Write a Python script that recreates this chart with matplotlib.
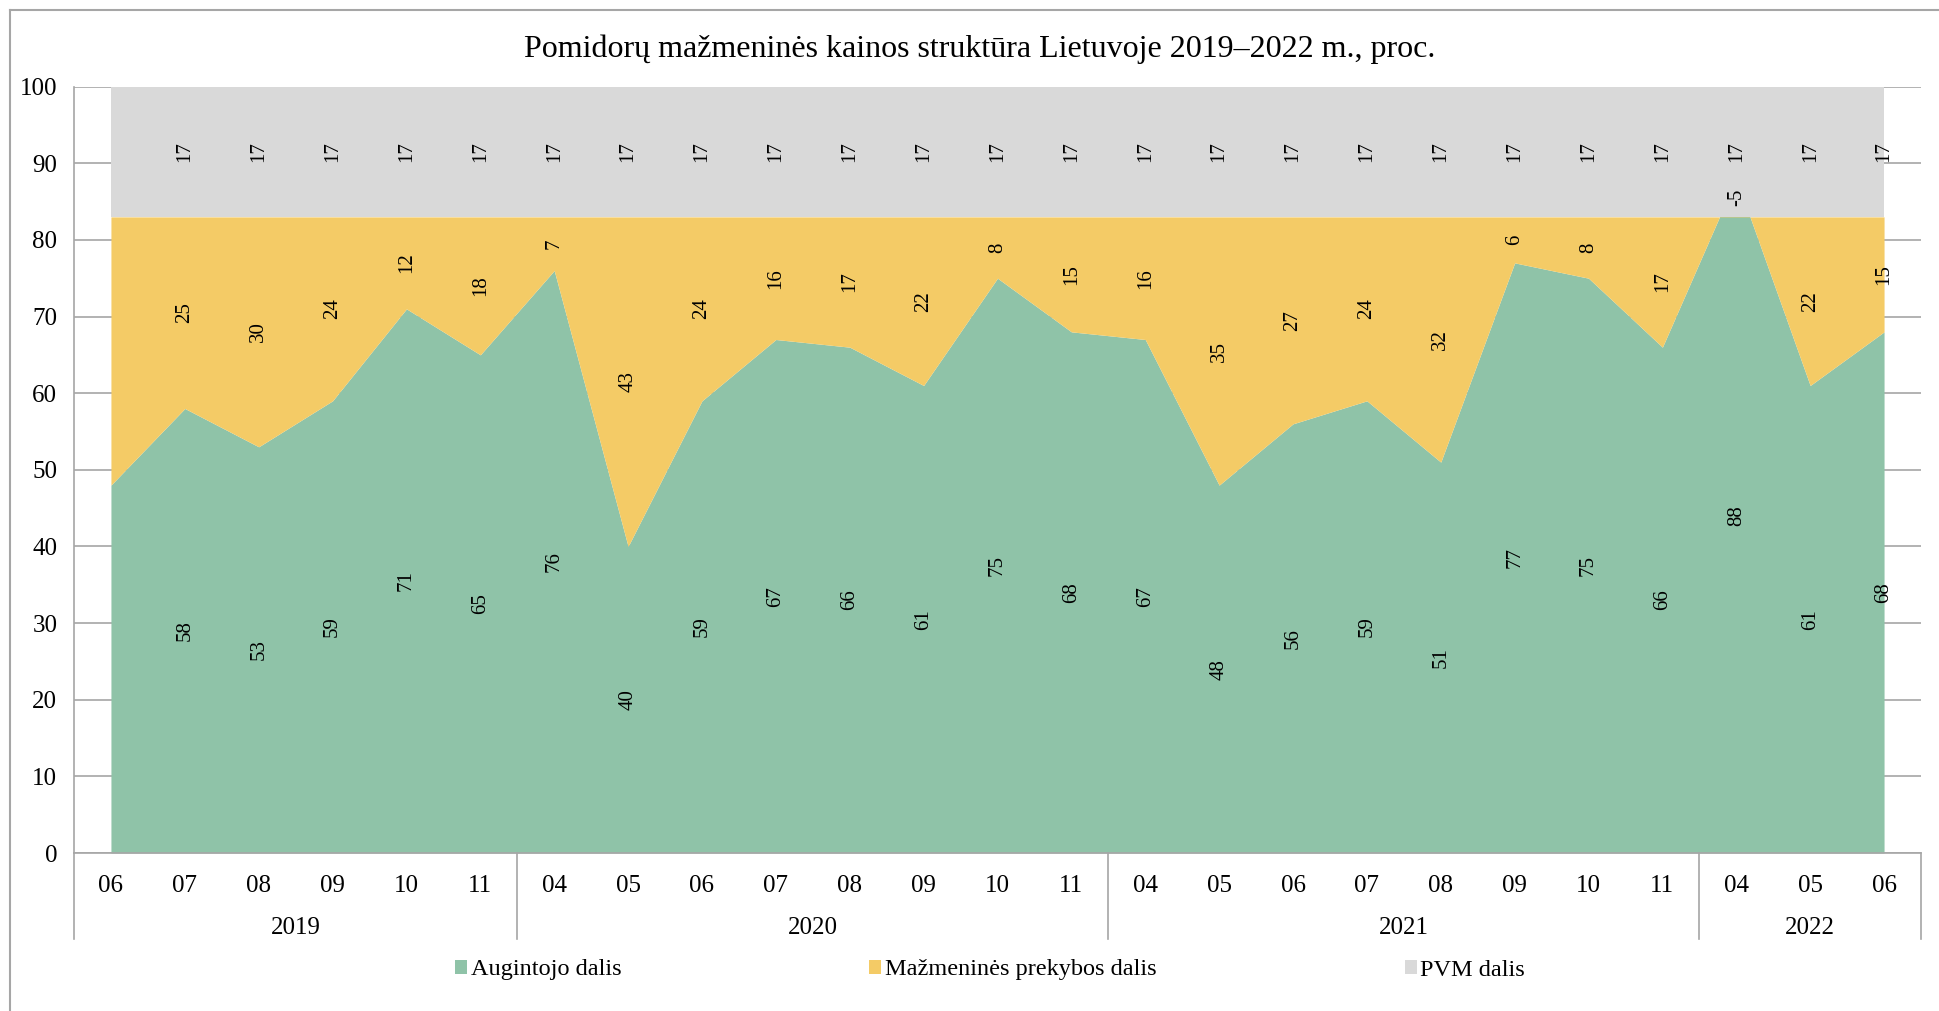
import numpy as np
import matplotlib.pyplot as plt
from matplotlib.patches import Patch
from matplotlib.lines import Line2D
from matplotlib.transforms import blended_transform_factory

plt.rcParams['font.family'] = ['Liberation Serif', 'DejaVu Serif']

months = ['06', '07', '08', '09', '10', '11',
          '04', '05', '06', '07', '08', '09', '10', '11',
          '04', '05', '06', '07', '08', '09', '10', '11',
          '04', '05', '06']
years = ['2019', '2020', '2021', '2022']
year_sizes = [6, 8, 8, 3]

grower = [48, 58, 53, 59, 71, 65, 76, 40, 59, 67, 66, 61, 75, 68,
          67, 48, 56, 59, 51, 77, 75, 66, 88, 61, 68]
retail = [35, 25, 30, 24, 12, 18, 7, 43, 24, 16, 17, 22, 8, 15,
          16, 35, 27, 24, 32, 6, 8, 17, -5, 22, 15]
vat = [17] * 25

series_names = ['Augintojo dalis', 'Mažmeninės prekybos dalis', 'PVM dalis']
colors = ['#8fc3a8', '#f4cb66', '#d9d9d9']
grid_color = '#a6a6a6'

W, H = 1939, 1011
fig = plt.figure(figsize=(W / 100, H / 100), dpi=100)
ax = fig.add_axes([74 / W, 1 - 853 / H, (1921 - 74) / W, (853 - 86.6) / H])

x = np.arange(len(months))
bottom = np.zeros(len(x))
for vals, col in zip([grower, retail, vat], colors):
    top = bottom + np.array(vals)
    ax.fill_between(x, bottom, top, color=col, linewidth=0, zorder=2)
    # value labels in the middle of each band (first point has none)
    for i in range(1, len(x)):
        ax.text(x[i], (bottom[i] + top[i]) / 2, str(vals[i]), rotation=90,
                ha='center', va='center', fontsize=15, zorder=5)
    bottom = top

ax.set_xlim(-0.5, len(x) - 0.5)
ax.set_ylim(0, 100)
ax.set_yticks(range(0, 101, 10))
ax.yaxis.grid(True, color=grid_color, linewidth=1.2, zorder=0)
ax.set_axisbelow(True)
ax.tick_params(axis='y', length=0, pad=12, labelsize=18)
ax.set_xticks(x)
ax.set_xticklabels(months)
ax.tick_params(axis='x', length=0, pad=16, labelsize=18)
for s in ['top', 'right']:
    ax.spines[s].set_visible(False)
for s in ['left', 'bottom']:
    ax.spines[s].set_color(grid_color)
    ax.spines[s].set_linewidth(1.2)

# two-level category axis: year groups with separators
trans = blended_transform_factory(ax.transData, ax.transAxes)
sep_y = -(939 - 853) / (853 - 86.6)
year_y = -(928 - 853) / (853 - 86.6)
edges = np.concatenate([[0], np.cumsum(year_sizes)]) - 0.5
for e in edges:
    ax.add_line(Line2D([e, e], [0, sep_y], transform=trans, color=grid_color,
                       linewidth=1.2, clip_on=False))
for yr, a, b in zip(years, edges[:-1], edges[1:]):
    ax.text((a + b) / 2, year_y, yr, transform=trans, ha='center',
            va='center', fontsize=18)

fig.suptitle('Pomidorų mažmeninės kainos struktūra Lietuvoje 2019–2022 m., proc.',
             x=980 / W, y=1 - 49 / H, va='center', fontsize=23)

handles = [Patch(facecolor=c, edgecolor='none') for c in colors]
fig.legend(handles, series_names, loc='center', bbox_to_anchor=(990 / W, 1 - 970 / H),
           ncol=3, frameon=False, fontsize=17.5, handlelength=0.5, handleheight=0.5,
           handletextpad=0.15, columnspacing=10.2)

# chart frame (left and top edges)
fig.add_artist(Line2D([10 / W, 10 / W], [0, 1 - 10 / H], color=grid_color, linewidth=1.5))
fig.add_artist(Line2D([10 / W, 1], [1 - 10 / H, 1 - 10 / H], color=grid_color, linewidth=1.5))

fig.savefig('out.png', dpi=100)
